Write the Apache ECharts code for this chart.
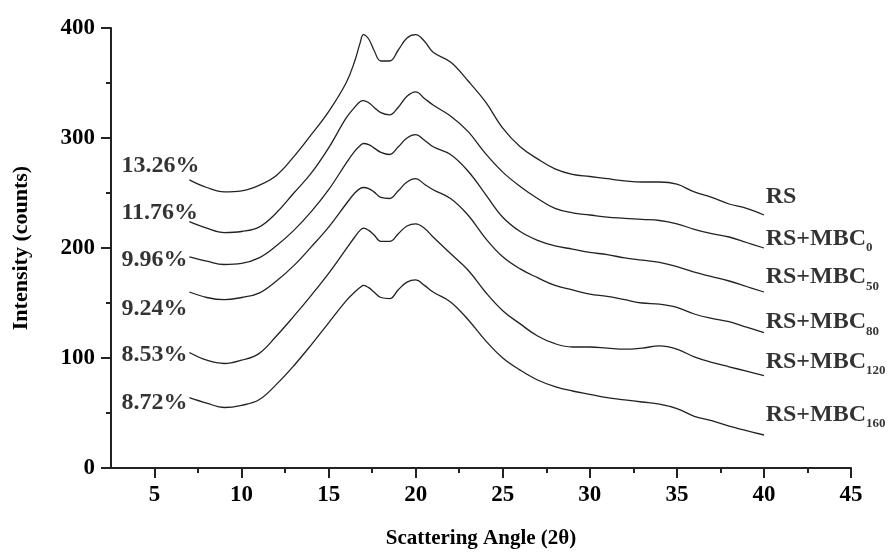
<!DOCTYPE html>
<html lang="en">
<head>
  <meta charset="utf-8" />
  <title>XRD patterns</title>
  <script src="https://cdn.jsdelivr.net/npm/echarts@6.0.0/dist/echarts.min.js"></script>
  <style>
    html, body { margin: 0; padding: 0; background: #fff; }
  </style>
</head>
<body>
  <div id="main" style="width: 892px;height:552px;"></div>
  <script>
    // scattering angle (2 theta) sample points
    var angles = [7, 8, 9, 10, 11, 12, 13, 14, 15, 16, 16.5, 16.8, 17, 17.3, 17.6, 18, 18.5, 19, 19.5, 20, 20.5, 21,
      22, 23, 24, 25, 26, 27, 28, 29, 30, 31, 32, 33, 34, 35, 36, 37, 38, 39, 40];

    // intensity (counts), stacked curves as drawn
    var rs = [262, 255, 251, 252, 257, 266, 283, 303, 324, 350, 370, 386, 394, 390, 380, 370, 370, 380, 391, 394, 388, 378,
      369, 352, 333, 309, 292, 281, 272, 267, 265, 263, 261, 260, 260, 258, 251, 246, 240, 236, 230];
    var mbc0 = [224, 218, 214, 215, 219, 232, 250, 268, 291, 318, 328, 333, 334, 332, 328, 323, 321, 328, 338, 342, 336, 330,
      320, 306, 286, 269, 256, 245, 236, 232, 230, 228, 227, 226, 225, 222, 217, 213, 210, 205, 200];
    var mbc50 = [192, 188, 185, 186, 191, 202, 216, 233, 253, 277, 288, 293, 295, 294, 291, 287, 285, 292, 300, 303, 298, 292,
      285, 270, 249, 228, 215, 207, 202, 199, 196, 194, 191, 189, 187, 183, 178, 174, 170, 165, 160];
    var mbc80 = [160, 155, 153, 155, 159, 170, 184, 201, 219, 240, 250, 254, 255, 254, 251, 246, 245, 252, 260, 263, 258, 253,
      245, 230, 209, 192, 181, 173, 166, 162, 158, 156, 153, 150, 149, 146, 140, 136, 133, 128, 123];
    var mbc120 = [105, 98, 95, 98, 104, 120, 138, 157, 177, 199, 210, 216, 218, 216, 212, 206, 206, 213, 220, 222, 218, 210,
      195, 180, 160, 143, 131, 120, 113, 110, 110, 109, 108, 109, 111, 108, 101, 96, 92, 88, 84];
    var mbc160 = [64, 59, 55, 57, 62, 76, 93, 112, 132, 152, 160, 164, 166, 164, 160, 155, 154, 162, 169, 171, 166, 160,
      151, 135, 116, 100, 89, 80, 74, 70, 67, 64, 62, 60, 58, 54, 47, 43, 38, 34, 30];

    var curves = [rs, mbc0, mbc50, mbc80, mbc120, mbc160];

    // crystallinity labels on the left, sample names on the right
    var crystLabels = ['13.26%', '11.76%', '9.96%', '9.24%', '8.53%', '8.72%'];
    var crystLabelY = [275, 232, 189, 145, 103, 59];
    var crystLabelX = 3.1;
    var sampleSubs = ['', '0', '50', '80', '120', '160'];
    var sampleLabelY = [246, 207, 172, 131, 95, 47];
    var sampleLabelX = 40.1;

    var xMajorTicks = [5, 10, 15, 20, 25, 30, 35, 40, 45];
    var xMinorTicks = [7.5, 12.5, 17.5, 22.5, 27.5, 32.5, 37.5, 42.5];

    var FONT = '"Liberation Serif", "Times New Roman", serif';

    var chartDom = document.getElementById('main');
    var myChart = echarts.init(chartDom, null, { renderer: 'canvas' });

    var series = [];
    curves.forEach(function (vals, i) {
      series.push({
        type: 'line',
        name: 'c' + i,
        data: angles.map(function (a, j) { return [a, vals[j]]; }),
        symbol: 'none',
        smooth: 0.4,
        lineStyle: { color: '#222', width: 1.3 },
        silent: true
      });
    });

    series.push({
      type: 'scatter',
      symbolSize: 0,
      silent: true,
      data: crystLabels.map(function (t, i) { return { value: [crystLabelX, crystLabelY[i]], name: t }; }),
      label: {
        show: true,
        position: 'right',
        distance: 0,
        formatter: '{b}',
        fontFamily: FONT,
        fontWeight: 'bold',
        fontSize: 24,
        color: '#000'
      }
    });

    series.push({
      type: 'scatter',
      symbolSize: 0,
      silent: true,
      data: sampleSubs.map(function (s, i) { return { value: [sampleLabelX, sampleLabelY[i]], name: s }; }),
      label: {
        show: true,
        position: 'right',
        distance: 0,
        formatter: function (p) {
          return p.name === '' ? '{a|RS}' : '{a|RS+MBC}{s|' + p.name + '}';
        },
        rich: {
          a: { fontFamily: FONT, fontWeight: 'bold', fontSize: 24, color: '#000', lineHeight: 26, verticalAlign: 'top' },
          s: { fontFamily: FONT, fontWeight: 'bold', fontSize: 13, color: '#000', lineHeight: 28, verticalAlign: 'bottom' }
        }
      }
    });

    var option = {
      backgroundColor: '#fff',
      animation: false,
      grid: { left: 111, right: 41, top: 28, bottom: 84, outerBoundsMode: 'none' },
      xAxis: [
        {
          type: 'value',
          min: 2.5,
          max: 45,
          name: 'Scattering Angle (2θ)',
          nameLocation: 'middle',
          nameGap: 60,
          nameTextStyle: { fontFamily: FONT, fontWeight: 'bold', fontSize: 21, color: '#000' },
          axisLine: { lineStyle: { color: '#222', width: 2 } },
          axisTick: { show: true, customValues: xMajorTicks, length: 10, lineStyle: { color: '#222', width: 2 } },
          axisLabel: { customValues: xMajorTicks, margin: 16, fontFamily: FONT, fontWeight: 'bold', fontSize: 23, color: '#000' },
          splitLine: { show: false }
        },
        {
          type: 'value',
          min: 2.5,
          max: 45,
          position: 'bottom',
          axisLine: { show: false },
          axisTick: { show: true, customValues: xMinorTicks, length: 5, lineStyle: { color: '#222', width: 2 } },
          axisLabel: { show: false },
          splitLine: { show: false }
        }
      ],
      yAxis: {
        type: 'value',
        min: 0,
        max: 400,
        interval: 100,
        name: 'Intensity (counts)',
        nameLocation: 'middle',
        nameGap: 79,
        nameTextStyle: { fontFamily: FONT, fontWeight: 'bold', fontSize: 22, color: '#000' },
        axisLine: { show: true, lineStyle: { color: '#222', width: 2 } },
        axisTick: { show: true, length: 10, lineStyle: { color: '#222', width: 2 } },
        minorTick: { show: true, splitNumber: 2, length: 5, lineStyle: { color: '#222', width: 2 } },
        axisLabel: { margin: 16, fontFamily: FONT, fontWeight: 'bold', fontSize: 23, color: '#000' },
        splitLine: { show: false }
      },
      series: series
    };

    myChart.setOption(option);
  </script>
</body>
</html>
